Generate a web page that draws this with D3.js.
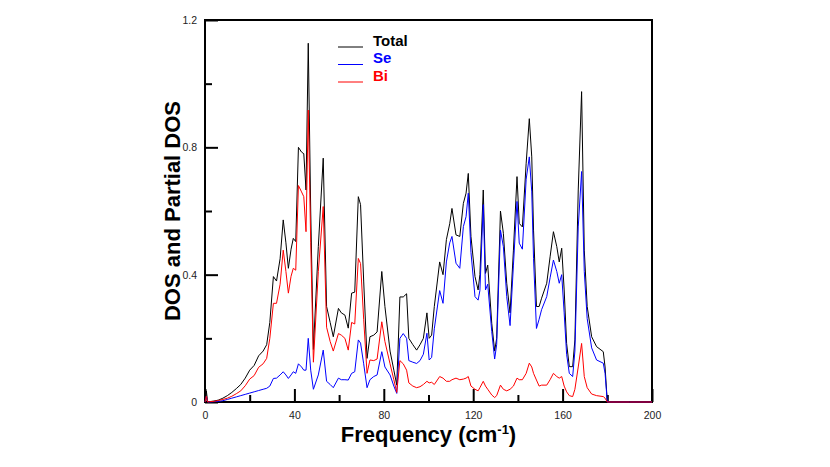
<!doctype html>
<html lang="en">
<head>
<meta charset="UTF-8">
<title>DOS</title>
<style>
  body { margin: 0; background: #fff; }
  svg text { font-family: Arial, "Liberation Sans", sans-serif; }
</style>
</head>
<body>
<svg width="830" height="467"></svg>
<script src="https://cdn.jsdelivr.net/npm/d3@7"></script>
<script>
// frequency grid (cm-1) and the three curves
var freq = [0, 0.6, 1.2, 2, 4, 6, 8, 10, 12, 14, 16, 18, 20, 22, 24, 26, 27.6, 29, 30.6, 32, 33.6, 35,
  36.2, 37.3, 38.5, 39.5, 40.6, 41.8, 43.2, 44.2, 45.2, 46.2, 47.3, 48.5, 50.7, 52.9, 54.4, 56,
  57.4, 59.7, 61, 62.6, 64.1, 65.6, 67, 68.6, 69.6, 71, 72.5, 73.8, 75.5, 77, 79.1, 80.5, 82.8,
  84.5, 85.8, 87.2, 88.7, 90.2, 91.2, 93, 94.7, 96.2, 97.7, 99.3, 100.3, 101.4, 102.6, 105,
  106.5, 108, 109.5, 110.5, 112.3, 114, 115.6, 116.8, 117.8, 119, 120.8, 122.2, 123, 124.5,
  125.5, 126.5, 128.3, 129.6, 130.5, 132.2, 133.5, 135, 136.5, 138, 139.6, 140.6, 142, 143.7,
  145.1, 146.2, 147, 148.3, 149.5, 150.6, 152.9, 154.4, 155.9, 157.4, 158.5, 159.6, 160.7,
  161.8, 163, 164.5, 165.5, 167, 168.5, 169.7, 171, 173, 175.2, 178.2, 179, 180, 190, 200];
var total = [0, 0.035, 0, 0.001, 0.003, 0.006, 0.012, 0.02, 0.03, 0.042, 0.055, 0.075, 0.1, 0.115, 0.145, 0.16, 0.18, 0.25, 0.394, 0.38, 0.45, 0.572,
  0.5, 0.42, 0.48, 0.514, 0.504, 0.8, 0.785, 0.78, 0.666, 1.127, 0.6, 0.165, 0.488, 0.766, 0.3, 0.25,
  0.205, 0.294, 0.28, 0.273, 0.232, 0.342, 0.345, 0.645, 0.62, 0.38, 0.137, 0.205, 0.21, 0.22, 0.41, 0.3, 0.16,
  0.1, 0.053, 0.33, 0.33, 0.34, 0.2, 0.18, 0.163, 0.18, 0.2, 0.28, 0.2, 0.21, 0.3, 0.44,
  0.4, 0.51, 0.56, 0.608, 0.525, 0.52, 0.624, 0.656, 0.718, 0.52, 0.394, 0.352, 0.4, 0.666,
  0.404, 0.43, 0.247, 0.16, 0.2, 0.6, 0.53, 0.373, 0.28, 0.477, 0.708, 0.561, 0.55, 0.75,
  0.89, 0.77, 0.54, 0.3, 0.3, 0.326, 0.373, 0.456, 0.535, 0.488, 0.44, 0.483, 0.352,
  0.184, 0.111, 0.111, 0.195, 0.666, 0.975, 0.477, 0.3, 0.205, 0.174, 0.158, 0.11, 0, 0, 0];
var se = [0, 0.018, 0, 0, 0.001, 0.002, 0.004, 0.008, 0.012, 0.016, 0.02, 0.024, 0.028, 0.032, 0.036, 0.04, 0.043, 0.05, 0.074, 0.075, 0.085, 0.095,
  0.085, 0.074, 0.085, 0.095, 0.09, 0.12, 0.11, 0.1, 0.1, 0.2, 0.1, 0.04, 0.085, 0.163, 0.065, 0.055,
  0.045, 0.075, 0.07, 0.07, 0.069, 0.09, 0.095, 0.195, 0.185, 0.12, 0.045, 0.07, 0.08, 0.085, 0.158, 0.11, 0.085,
  0.05, 0.027, 0.2, 0.215, 0.2, 0.13, 0.125, 0.121, 0.13, 0.15, 0.216, 0.132, 0.14, 0.23, 0.35,
  0.31, 0.44, 0.5, 0.52, 0.436, 0.42, 0.551, 0.582, 0.656, 0.47, 0.331, 0.32, 0.35, 0.62,
  0.352, 0.37, 0.221, 0.135, 0.18, 0.54, 0.488, 0.331, 0.24, 0.43, 0.63, 0.499, 0.48, 0.7,
  0.77, 0.66, 0.45, 0.231, 0.26, 0.29, 0.331, 0.39, 0.446, 0.41, 0.373, 0.4, 0.28,
  0.15, 0.09, 0.08, 0.16, 0.55, 0.724, 0.41, 0.262, 0.17, 0.132, 0.122, 0.09, 0, 0, 0];
var bi = [0, 0.018, 0, 0.001, 0.002, 0.005, 0.008, 0.012, 0.018, 0.026, 0.035, 0.051, 0.072, 0.083, 0.109, 0.12, 0.137, 0.2, 0.31, 0.31, 0.37, 0.477,
  0.41, 0.342, 0.395, 0.42, 0.414, 0.68, 0.66, 0.645, 0.535, 0.917, 0.5, 0.125, 0.41, 0.614, 0.235, 0.19,
  0.16, 0.215, 0.21, 0.2, 0.163, 0.25, 0.245, 0.451, 0.435, 0.26, 0.09, 0.132, 0.13, 0.135, 0.252, 0.19, 0.12,
  0.07, 0.03, 0.13, 0.12, 0.1, 0.06, 0.05, 0.045, 0.048, 0.055, 0.065, 0.06, 0.062, 0.055, 0.08,
  0.075, 0.065, 0.065, 0.07, 0.075, 0.07, 0.072, 0.075, 0.08, 0.05, 0.04, 0.035, 0.045, 0.065,
  0.05, 0.04, 0.022, 0.014, 0.02, 0.053, 0.04, 0.035, 0.04, 0.05, 0.075, 0.07, 0.07, 0.09,
  0.122, 0.11, 0.09, 0.069, 0.05, 0.053, 0.053, 0.07, 0.09, 0.08, 0.075, 0.08, 0.05,
  0.032, 0.02, 0.017, 0.04, 0.11, 0.184, 0.08, 0.045, 0.025, 0.02, 0.017, 0.012, 0, 0, 0];

var xMajor = [0, 40, 80, 120, 160, 200];
var xMinor = [20, 60, 100, 140, 180];
var yMajor = [0, 0.4, 0.8, 1.2];
var yMinor = [0.2, 0.6, 1.0];
var seriesNames = ['Total', 'Se', 'Bi'];
var seriesColors = ['#000000', '#0000ff', '#ff0000'];

var svg = d3.select('svg');
var plotL = 205, plotR = 652, plotT = 20, plotB = 402;

var x = d3.scaleLinear().domain([0, 200]).range([plotL, plotR]);
var y = d3.scaleLinear().domain([0, 1.2]).range([plotB, plotT]);

// axes, ticks pointing inward
function styleAxis(g) {
    g.select('.domain').remove();
    g.selectAll('.tick line').attr('stroke', '#000').attr('stroke-width', 2);
    g.selectAll('.tick text').attr('fill', '#222').style('font-size', '10.5px');
}
svg.append('g')
    .attr('transform', 'translate(0,' + plotB + ')')
    .call(d3.axisBottom(x).tickValues(xMajor).tickSize(-13).tickPadding(10).tickFormat(d3.format('d')))
    .call(styleAxis);
svg.append('g')
    .attr('transform', 'translate(0,' + plotB + ')')
    .call(d3.axisBottom(x).tickValues(xMinor).tickSize(-7).tickFormat(''))
    .call(styleAxis);
svg.append('g')
    .attr('transform', 'translate(' + plotL + ',0)')
    .call(d3.axisLeft(y).tickValues(yMajor).tickSize(-13).tickPadding(8).tickFormat(function(d) { return d === 0 ? '0' : d3.format('.1f')(d); }))
    .call(styleAxis);
svg.append('g')
    .attr('transform', 'translate(' + plotL + ',0)')
    .call(d3.axisLeft(y).tickValues(yMinor).tickSize(-7).tickFormat(''))
    .call(styleAxis);

// frame
svg.append('rect')
    .attr('x', plotL).attr('y', plotT)
    .attr('width', plotR - plotL).attr('height', plotB - plotT)
    .attr('fill', 'none').attr('stroke', '#000').attr('stroke-width', 2);

// curves on top of the frame (Total under the partials)
var line = d3.line()
    .x(function(d, i) { return x(freq[i]); })
    .y(function(d) { return y(d); });
[total, se, bi].forEach(function(s, k) {
    svg.append('path')
        .attr('d', line(s))
        .attr('fill', 'none')
        .attr('stroke', seriesColors[k])
        .attr('stroke-width', 1)
        .attr('stroke-linejoin', 'round');
});

// axis titles
var xt = svg.append('text')
    .attr('x', (plotL + plotR) / 2).attr('y', 442)
    .attr('text-anchor', 'middle')
    .style('font-size', '22px').style('font-weight', 'bold');
xt.append('tspan').text('Frequency (cm');
xt.append('tspan').text('-1').attr('dy', -8).style('font-size', '13px');
xt.append('tspan').text(')').attr('dy', 8);

svg.append('text')
    .attr('transform', 'translate(180,' + ((plotT + plotB) / 2) + ') rotate(-90)')
    .attr('text-anchor', 'middle')
    .style('font-size', '22px').style('font-weight', 'bold')
    .text('DOS and Partial DOS');

// legend
var legend = svg.append('g');
seriesNames.forEach(function(name, i) {
    var ly = 47 + i * 17.5;
    legend.append('line')
        .attr('x1', 338).attr('x2', 363)
        .attr('y1', ly).attr('y2', ly)
        .attr('stroke', seriesColors[i]).attr('stroke-width', 1);
    legend.append('text')
        .attr('x', 373).attr('y', ly - 1.5)
        .style('font-size', '15px').style('font-weight', 'bold')
        .attr('fill', seriesColors[i])
        .text(name);
});
</script>
</body>
</html>
